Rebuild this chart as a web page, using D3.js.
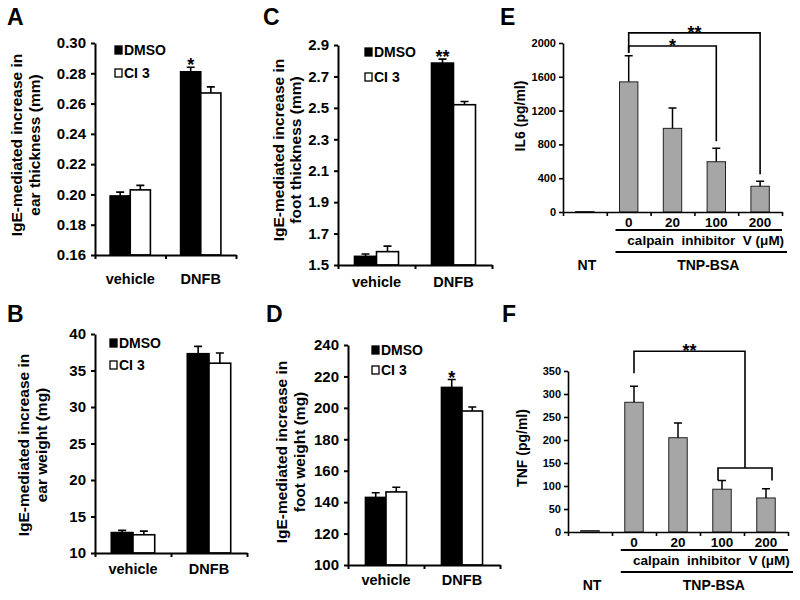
<!DOCTYPE html>
<html>
<head>
<meta charset="utf-8">
<script src="https://cdn.jsdelivr.net/npm/d3@7"></script>
<style>
body { margin: 0; background: #fff; }
text { font-family: Arial, "Liberation Sans", sans-serif; font-weight: bold; fill: #000; }
</style>
</head>
<body>
<svg id="figure" width="800" height="600"></svg>
<script>
"use strict";

// groupes et séries des panneaux A-D
var groupes = ["vehicle", "DNFB"];
var series = ["DMSO", "CI 3"];

// A : épaisseur oreille (mm)
var oreilleEpDMSO = [0.199, 0.281], oreilleEpDMSOErr = [0.0025, 0.003];
var oreilleEpCI3 = [0.203, 0.267], oreilleEpCI3Err = [0.003, 0.004];
var oreilleEpTicks = [0.16, 0.18, 0.20, 0.22, 0.24, 0.26, 0.28, 0.30];
var oreilleEpSig = ["", "*"];

// B : poids oreille (mg)
var oreillePdDMSO = [12.8, 37.3], oreillePdDMSOErr = [0.3, 1.0];
var oreillePdCI3 = [12.5, 36.0], oreillePdCI3Err = [0.5, 1.4];
var oreillePdTicks = [10, 15, 20, 25, 30, 35, 40];
var oreillePdSig = ["", ""];

// C : épaisseur patte (mm)
var patteEpDMSO = [1.555, 2.785], patteEpDMSOErr = [0.015, 0.025];
var patteEpCI3 = [1.585, 2.52], patteEpCI3Err = [0.035, 0.02];
var patteEpTicks = [1.5, 1.7, 1.9, 2.1, 2.3, 2.5, 2.7, 2.9];
var patteEpSig = ["", "**"];

// D : poids patte (mg)
var pattePdDMSO = [143, 213], pattePdDMSOErr = [3, 5];
var pattePdCI3 = [146.5, 198], pattePdCI3Err = [3, 2.5];
var pattePdTicks = [100, 120, 140, 160, 180, 200, 220, 240];
var pattePdSig = ["", "*"];

// E et F : traitements
var traitements = ["NT", "0", "20", "100", "200"];
var il6Moy = [5, 1540, 990, 595, 305];
var il6Err = [0, 310, 240, 160, 60];
var il6Ticks = [0, 400, 800, 1200, 1600, 2000];
var il6CrochetA = [4, 3];          // crochets partant de "0"
var il6CrochetNiveau = [2120, 1965];
var il6CrochetSig = ["**", "*"];

var tnfMoy = [3, 282, 205, 93, 74];
var tnfErr = [0, 35, 32, 19, 20];
var tnfTicks = [0, 50, 100, 150, 200, 250, 300, 350];
var tnfGroupe = [3, 4];            // 100 et 200 regroupés
var tnfNiveauHaut = 393, tnfNiveauBas = 139, tnfSig = "**";

var svg = d3.select("#figure");

function lettre(txt, x, y) {
    svg.append("text").attr("x", x).attr("y", y).style("font-size", "23px").text(txt);
}

function titreVertical(lignes, cy, xs, taille) {
    lignes.forEach(function(l, i) {
        svg.append("text")
            .attr("transform", "translate(" + xs[i] + "," + cy + ") rotate(-90)")
            .attr("text-anchor", "middle")
            .attr("dy", "0.35em")
            .style("font-size", taille)
            .text(l);
    });
}

function panneauGroupes(cfg) {
    var y = d3.scaleLinear().domain([cfg.ticks[0], cfg.ticks[cfg.ticks.length - 1]]).range([cfg.yBas, cfg.yHaut]);
    var xCat = d3.scaleBand().domain(groupes).range([cfg.x0, cfg.x1]);
    var xSer = d3.scaleBand().domain(series).range([0, xCat.bandwidth()]).paddingOuter(cfg.marge);

    var donnees = [];
    groupes.forEach(function(g, i) {
        donnees.push({g: g, s: "DMSO", v: cfg.dmso[i], e: cfg.dmsoErr[i], sig: cfg.sig[i]});
        donnees.push({g: g, s: "CI 3", v: cfg.ci3[i], e: cfg.ci3Err[i], sig: ""});
    });

    var g = svg.append("g");
    g.selectAll("rect.barre").data(donnees).enter().append("rect")
        .attr("x", function(d) { return xCat(d.g) + xSer(d.s); })
        .attr("y", function(d) { return y(d.v); })
        .attr("width", xSer.bandwidth())
        .attr("height", function(d) { return cfg.yBas - y(d.v); })
        .attr("fill", function(d) { return d.s === "DMSO" ? "#000" : "#fff"; })
        .attr("stroke", "#000").attr("stroke-width", 1.6);

    // barres d'erreur (vers le haut seulement)
    var cx = function(d) { return xCat(d.g) + xSer(d.s) + xSer.bandwidth() / 2; };
    g.selectAll("path.err").data(donnees).enter().append("path")
        .attr("d", function(d) {
            var x = cx(d), y0 = y(d.v), y1 = y(d.v + d.e);
            return "M" + x + "," + y0 + "V" + y1 + "M" + (x - 4) + "," + y1 + "H" + (x + 4);
        })
        .attr("stroke", "#000").attr("stroke-width", 1.6).attr("fill", "none");

    g.selectAll("text.sig").data(donnees.filter(function(d) { return d.sig; })).enter().append("text")
        .attr("x", cx).attr("y", function(d) { return y(d.v + d.e) + 4; })
        .attr("text-anchor", "middle").style("font-size", "18px").text(function(d) { return d.sig; });

    // axes
    var axeY = g.append("g").attr("transform", "translate(" + cfg.x0 + ",0)")
        .call(d3.axisLeft(y).tickValues(cfg.ticks).tickFormat(d3.format(cfg.format)).tickSize(4).tickSizeOuter(0).tickPadding(5));
    var xLin = d3.scaleLinear().domain([0, 2]).range([cfg.x0, cfg.x1]);
    var axeX = g.append("g").attr("transform", "translate(0," + cfg.yBas + ")")
        .call(d3.axisBottom(xLin).tickValues([0, 1, 2]).tickFormat("").tickSize(4).tickSizeOuter(0));
    [axeY, axeX].forEach(function(a) {
        a.selectAll("path, line").attr("stroke", "#000").attr("stroke-width", 2);
    });
    axeY.selectAll("text").style("font-size", "15px");

    g.selectAll("text.cat").data(groupes).enter().append("text")
        .attr("x", function(d) { return xCat(d) + xCat.bandwidth() / 2; })
        .attr("y", cfg.yBas + cfg.decalCat)
        .attr("text-anchor", "middle").style("font-size", "14.5px").text(function(d) { return d; });

    // légende
    series.forEach(function(s, i) {
        var ly = cfg.legY[i];
        g.append("rect").attr("x", cfg.legX).attr("y", ly - 4).attr("width", 7).attr("height", 8)
            .attr("fill", i === 0 ? "#000" : "#fff").attr("stroke", "#000").attr("stroke-width", 1.3);
        g.append("text").attr("x", cfg.legX + 9).attr("y", ly).attr("dy", "0.35em")
            .style("font-size", "14px").text(s);
    });

    titreVertical(cfg.titre, cfg.titreY, cfg.titreX, "15.5px");
}

function panneauDoses(cfg) {
    var y = d3.scaleLinear().domain([0, cfg.ticks[cfg.ticks.length - 1]]).range([cfg.yBas, cfg.yHaut]);
    var x = d3.scaleBand().domain(traitements).range([cfg.x0, cfg.x1]).paddingInner(0.58).paddingOuter(0.29);
    var donnees = traitements.map(function(t, i) { return {t: t, v: cfg.moy[i], e: cfg.err[i]}; });
    var centre = function(t) { return x(t) + x.bandwidth() / 2; };

    var g = svg.append("g");
    g.selectAll("rect").data(donnees).enter().append("rect")
        .attr("x", function(d) { return x(d.t); })
        .attr("y", function(d) { return y(d.v); })
        .attr("width", x.bandwidth())
        .attr("height", function(d) { return cfg.yBas - y(d.v); })
        .attr("fill", "#a6a6a6").attr("stroke", "#222").attr("stroke-width", 1);

    g.selectAll("path.err").data(donnees.filter(function(d) { return d.e > 0; })).enter().append("path")
        .attr("d", function(d) {
            var xc = centre(d.t), y0 = y(d.v), y1 = y(d.v + d.e);
            return "M" + xc + "," + y0 + "V" + y1 + "M" + (xc - 4) + "," + y1 + "H" + (xc + 4);
        })
        .attr("stroke", "#000").attr("stroke-width", 1.5).attr("fill", "none");

    var axeY = g.append("g").attr("transform", "translate(" + cfg.x0 + ",0)")
        .call(d3.axisLeft(y).tickValues(cfg.ticks).tickFormat(d3.format("d")).tickSize(4).tickSizeOuter(0).tickPadding(3));
    var xLin = d3.scaleLinear().domain([0, traitements.length]).range([cfg.x0, cfg.x1]);
    var axeX = g.append("g").attr("transform", "translate(0," + cfg.yBas + ")")
        .call(d3.axisBottom(xLin).tickValues(d3.range(traitements.length + 1)).tickFormat("").tickSize(4).tickSizeOuter(0));
    [axeY, axeX].forEach(function(a) {
        a.selectAll("path, line").attr("stroke", "#000").attr("stroke-width", 1.6);
    });
    axeY.selectAll("text").style("font-size", "11px");

    // doses sous l'axe
    g.selectAll("text.dose").data(traitements.slice(1)).enter().append("text")
        .attr("x", centre).attr("y", cfg.yBas + 15)
        .attr("text-anchor", "middle").style("font-size", "13.5px").text(function(d) { return d; });

    var debut = x(traitements[1]) - 4;
    g.append("line").attr("x1", debut).attr("x2", cfg.x1).attr("y1", cfg.yBas + 18).attr("y2", cfg.yBas + 18)
        .attr("stroke", "#000").attr("stroke-width", 2.2);
    g.append("text").attr("x", (debut + cfg.x1) / 2 + 7).attr("y", cfg.yBas + 33)
        .attr("text-anchor", "middle").style("font-size", "13.5px").style("white-space", "pre")
        .text("calpain  inhibitor  V (\u03bcM)");
    g.append("line").attr("x1", debut).attr("x2", cfg.x1 + 5).attr("y1", cfg.yBas + 40).attr("y2", cfg.yBas + 40)
        .attr("stroke", "#000").attr("stroke-width", 2.2);
    g.append("text").attr("x", centre(traitements[0]) + 2).attr("y", cfg.yBas + 58)
        .attr("text-anchor", "middle").style("font-size", "14px").text(traitements[0]);
    g.append("text").attr("x", (debut + cfg.x1 + 5) / 2 + 7).attr("y", cfg.yBas + 58)
        .attr("text-anchor", "middle").style("font-size", "14px").text("TNP-BSA");

    titreVertical([cfg.titre], cfg.titreY, [cfg.titreX], "14px");

    cfg.crochets(g, x, y, centre, donnees);
}

function trait(g, d) {
    g.append("path").attr("d", d).attr("stroke", "#000").attr("stroke-width", 1.6).attr("fill", "none");
}

function etoile(g, txt, x, yLigne) {
    g.append("text").attr("x", x).attr("y", yLigne + 6).attr("text-anchor", "middle")
        .style("font-size", "18px").text(txt);
}

lettre("A", 7, 25);
lettre("B", 7, 322);
lettre("C", 263, 25);
lettre("D", 266, 322);
lettre("E", 500, 25);
lettre("F", 502, 322);

panneauGroupes({
    x0: 95, x1: 236, yHaut: 43, yBas: 255, marge: 0.75, decalCat: 29,
    ticks: oreilleEpTicks, format: ".2f",
    dmso: oreilleEpDMSO, dmsoErr: oreilleEpDMSOErr, ci3: oreilleEpCI3, ci3Err: oreilleEpCI3Err, sig: oreilleEpSig,
    legX: 115, legY: [50, 73],
    titre: ["IgE-mediated increase in", "ear thickness (mm)"], titreX: [17, 35], titreY: 145
});

panneauGroupes({
    x0: 95, x1: 247, yHaut: 334, yBas: 553, marge: 0.75, decalCat: 21,
    ticks: oreillePdTicks, format: "d",
    dmso: oreillePdDMSO, dmsoErr: oreillePdDMSOErr, ci3: oreillePdCI3, ci3Err: oreillePdCI3Err, sig: oreillePdSig,
    legX: 110, legY: [343, 365],
    titre: ["IgE-mediated increase in", "ear weight (mg)"], titreX: [24, 42], titreY: 445
});

panneauGroupes({
    x0: 338, x1: 492, yHaut: 45, yBas: 265, marge: 0.75, decalCat: 22,
    ticks: patteEpTicks, format: ".1f",
    dmso: patteEpDMSO, dmsoErr: patteEpDMSOErr, ci3: patteEpCI3, ci3Err: patteEpCI3Err, sig: patteEpSig,
    legX: 365, legY: [52, 77],
    titre: ["IgE-mediated increase in", "foot thickness (mm)"], titreX: [279, 296], titreY: 150
});

panneauGroupes({
    x0: 348, x1: 500, yHaut: 345, yBas: 565, marge: 0.85, decalCat: 20,
    ticks: pattePdTicks, format: "d",
    dmso: pattePdDMSO, dmsoErr: pattePdDMSOErr, ci3: pattePdCI3, ci3Err: pattePdCI3Err, sig: pattePdSig,
    legX: 372, legY: [350, 370],
    titre: ["IgE-mediated increase in", "foot weight (mg)"], titreX: [282, 300], titreY: 452
});

panneauDoses({
    x0: 563, x1: 782, yHaut: 43, yBas: 212, ticks: il6Ticks, moy: il6Moy, err: il6Err,
    titre: "IL6 (pg/ml)", titreX: 520, titreY: 116,
    crochets: function(g, x, y, centre, donnees) {
        var xa = centre(traitements[1]);
        var yHautErr = y(donnees[1].v + donnees[1].e) - 3;
        il6CrochetA.forEach(function(j, k) {
            var xb = centre(traitements[j]);
            var yl = y(il6CrochetNiveau[k]);
            var yb = y(donnees[j].v + donnees[j].e) - 7;
            trait(g, "M" + xa + "," + yHautErr + "V" + yl + "H" + xb + "V" + yb);
            etoile(g, il6CrochetSig[k], (xa + xb) / 2, yl);
        });
    }
});

panneauDoses({
    x0: 568, x1: 788, yHaut: 371, yBas: 532, ticks: tnfTicks, moy: tnfMoy, err: tnfErr,
    titre: "TNF (pg/ml)", titreX: 522, titreY: 448,
    crochets: function(g, x, y, centre, donnees) {
        var xa = centre(traitements[1]);
        var x1 = centre(traitements[tnfGroupe[0]]) - 4, x2 = centre(traitements[tnfGroupe[1]]) + 6;
        var xm = (x1 + x2) / 2;
        var yh = y(tnfNiveauHaut), yb = y(tnfNiveauBas);
        var yBout = y(donnees[tnfGroupe[0]].v + donnees[tnfGroupe[0]].e);
        trait(g, "M" + xa + "," + (y(donnees[1].v + donnees[1].e) - 13) + "V" + yh + "H" + xm + "V" + yb);
        trait(g, "M" + x1 + "," + yBout + "V" + yb + "H" + x2 + "V" + yBout);
        etoile(g, tnfSig, (xa + xm) / 2, yh);
    }
});
</script>
</body>
</html>
